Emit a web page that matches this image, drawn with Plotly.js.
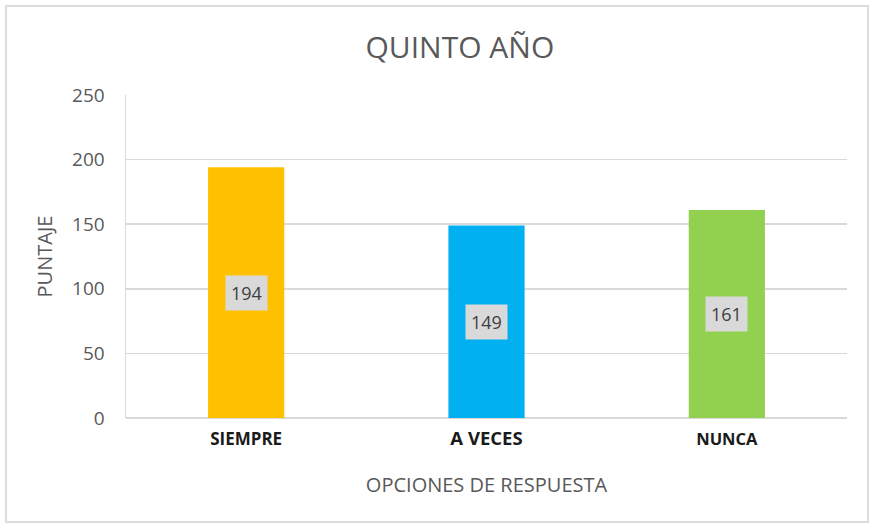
<!DOCTYPE html>
<html>
<head>
<meta charset="utf-8">
<script src="https://cdn.plot.ly/plotly-3.0.1.min.js"></script>
<style>
html,body{margin:0;padding:0;background:#fff;}
#wrap{position:relative;width:871px;height:525px;}
#chart{width:871px;height:525px;}
#frame{position:absolute;left:5px;top:5px;width:860px;height:514px;border:2px solid #dcdcdc;pointer-events:none;}
</style>
</head>
<body>
<div id="wrap"><div id="chart"></div><div id="frame"></div></div>
<script>
const categories = ["SIEMPRE", "A VECES", "NUNCA"];
const values = [194, 149, 161];
const colors = ["#FFC000", "#00B0F0", "#92D050"];
const tickLabels = ["SIEMPRE", "<span style='font-size:18.5px'>A VECES</span>", "<span style='font-size:16.5px'>NUNCA</span>"];

const trace = {
  type: "bar",
  x: categories,
  y: values,
  marker: {color: colors},
  width: 0.317,
  hoverinfo: "none"
};

const annotations = categories.map((c, i) => ({
  x: c, y: values[i] / 2, xref: "x", yref: "y",
  text: String(values[i]), showarrow: false,
  bgcolor: "#d9d9d9", borderpad: 5,
  font: {family: "Open Sans, sans-serif", size: 18, color: "#404040"}
}));

const layout = {
  width: 871, height: 525,
  margin: {l: 126, r: 24, t: 95, b: 107},
  paper_bgcolor: "#fff", plot_bgcolor: "#fff",
  showlegend: false,
  bargap: 0.683,
  title: {text: "QUINTO AÑO", x: 0.528, xanchor: "center", y: 0.91, yanchor: "middle",
          font: {family: "Open Sans, sans-serif", size: 30, color: "#595959"}},
  xaxis: {
    tickmode: "array", tickvals: categories, ticktext: tickLabels,
    tickfont: {family: "Open Sans, sans-serif", size: 17, color: "#1a1a1a", weight: "bold"},
    showgrid: false, zeroline: false, showline: false, ticks: "",
    ticklabelstandoff: 9,
    title: {text: "OPCIONES DE RESPUESTA", standoff: 28,
            font: {family: "Open Sans, sans-serif", size: 20, color: "#595959"}}
  },
  yaxis: {
    range: [0, 250], dtick: 50, tick0: 0,
    showgrid: true, gridcolor: "#d9d9d9", gridwidth: 1.5,
    zeroline: true, zerolinecolor: "#d9d9d9", zerolinewidth: 1.5,
    showline: true, linecolor: "#d9d9d9", linewidth: 1.5,
    ticks: "", ticklabelstandoff: 16,
    tickfont: {family: "Open Sans, sans-serif", size: 19, color: "#595959"},
    title: {text: "PUNTAJE", standoff: 14,
            font: {family: "Open Sans, sans-serif", size: 20, color: "#595959"}}
  },
  annotations: annotations
};

Plotly.newPlot("chart", [trace], layout, {displayModeBar: false, staticPlot: true});
</script>
</body>
</html>
